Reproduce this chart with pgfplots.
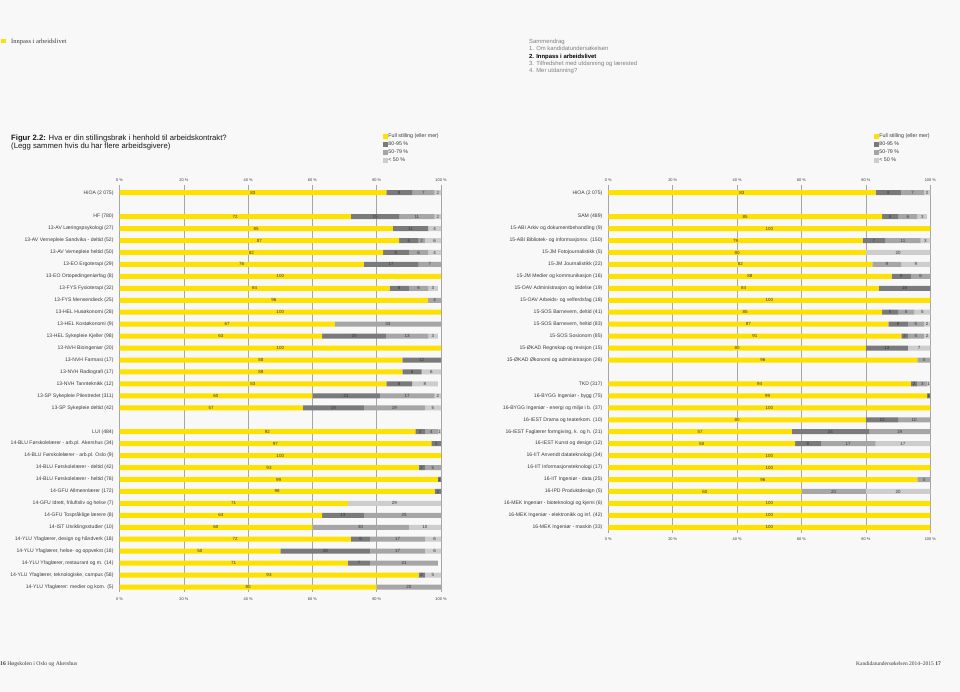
\documentclass[border=0pt]{standalone}
\usepackage{pgfplots}
\pgfplotsset{compat=1.18}
\usepackage{pgfplotstable}
\usepackage{fontspec}
\setmainfont{Liberation Sans}
\newfontfamily\seriffont{Liberation Serif}

\definecolor{bg}{HTML}{F8F8F8}
\definecolor{cyel}{HTML}{FFE100}
\definecolor{cdark}{HTML}{7A7A7A}
\definecolor{cmid}{HTML}{A6A6A6}
\definecolor{clight}{HTML}{CDCDCD}
\definecolor{ctxt}{HTML}{3A3A3A}

\pgfplotstableread{
y a b c d
0 83 8 7 2
2 72 15 11 2
3 85 11 0 4
4 87 6 2 6
5 82 8 6 4
6 76 17 7 0
7 100 0 0 0
8 84 6 6 3
9 96 0 4 0
10 100 0 0 0
11 67 0 33 0
12 63 20 13 3
13 100 0 0 0
14 88 12 0 0
15 88 6 0 6
16 83 8 0 8
17 60 21 17 2
18 57 19 19 5
20 92 3 4 1
21 97 3 0 0
22 100 0 0 0
23 93 2 5 0
24 99 1 0 0
25 98 2 0 0
26 71 0 0 29
27 63 13 25 0
28 60 0 30 10
29 72 6 17 6
30 50 28 17 6
31 71 7 21 0
32 93 2 0 5
33 80 0 20 0
}\lefttab

\pgfplotstableread{
y a b c d
0 83 8 7 2
2 85 5 6 3
3 100 0 0 0
4 79 7 11 3
5 80 0 0 20
6 82 0 9 9
7 88 6 6 0
8 84 16 0 0
9 100 0 0 0
10 85 5 5 5
11 87 6 5 2
12 91 2 5 2
13 80 13 0 7
14 96 0 4 0
16 94 2 3 1
17 99 1 0 0
18 100 0 0 0
19 80 10 10 0
20 57 24 19 0
21 58 8 17 17
22 100 0 0 0
23 100 0 0 0
24 96 0 4 0
25 60 0 20 20
26 100 0 0 0
27 100 0 0 0
28 100 0 0 0
}\righttab

\pgfplotsset{
  panel/.style={
    scale only axis, anchor=north west,
    xmin=0, xmax=100, y dir=reverse,
    axis line style={draw=none},
    tick style={draw=none},
    major tick length=0pt,
    /pgf/number format/assume math mode=true,
    xtick={0,20,40,60,80,100},
    xticklabels={0 \%,20 \%,40 \%,60 \%,80 \%,100 \%},
  },
  barsaxis/.style={panel, xbar stacked, bar width=5pt,
    xmajorgrids, grid style={color=black!35, line width=0.6pt},
    xticklabel style={font=\fontsize{3.9}{4}\selectfont, text=ctxt, anchor=center, yshift=-6.6pt, inner sep=0pt},
    yticklabel style={font=\fontsize{5.1}{5.5}\selectfont, text=ctxt, anchor=east, inner sep=0pt, xshift=-5.8pt},
    legend cell align=left,
    legend style={draw=none, fill=none, anchor=north west, inner sep=0pt,
      font=\fontsize{5.3}{5.5}\selectfont, text=ctxt, row sep=1.6pt,
      nodes={inner sep=0.8pt, text height=3.9pt, text depth=0.9pt}},
  },
  labaxis/.style={panel, ytick=\empty, clip=false,
    xticklabel pos=upper,
    xticklabel style={font=\fontsize{3.9}{4}\selectfont, text=ctxt, anchor=center, yshift=5pt, inner sep=0pt},
  },
  sq/.style={legend image code/.code={\fill[##1] (0pt,-2.2pt) rectangle (4.4pt,2.2pt);}},
  seglab/.style={only marks, mark=*, mark size=0pt, mark options={draw=none, fill=none},
    point meta=explicit,
    nodes near coords={\pgfmathfloatifflags{\pgfplotspointmeta}{0}{}{\pgfmathprintnumber{\pgfplotspointmeta}}},
    every node near coord/.style={anchor=center, font=\fontsize{4.5}{4.5}\selectfont, text=ctxt, inner sep=0pt}},
}

\begin{document}
\begin{tikzpicture}
\fill[bg] (0,0) rectangle (960pt,-692pt);

% header texts
\fill[cyel] (1pt,-39pt) rectangle (5.5pt,-43.5pt);
\node[anchor=base west, inner sep=0pt, font=\seriffont\fontsize{6.5}{7}\selectfont, text=ctxt] at (11pt,-43.4pt) {Innpass i arbeidslivet};

\begin{scope}[every node/.style={anchor=base west, inner sep=0pt, font=\fontsize{5.9}{6}\selectfont, text=black!50}]
\node at (529pt,-43.6pt) {Sammendrag};
\node at (529pt,-50.9pt) {1. Om kandidatundersøkelsen};
\node[text=black] at (529pt,-58.1pt) {\bfseries 2. Innpass i arbeidslivet};
\node at (529pt,-65.3pt) {3. Tilfredshet med utdanning og lærested};
\node at (529pt,-72.9pt) {4. Mer utdanning?};
\end{scope}

\node[anchor=base west, inner sep=0pt, font=\fontsize{7.7}{8}\selectfont, text=black!90] at (11pt,-140.2pt) {\textbf{Figur 2.2:} Hva er din stillingsbrøk i henhold til arbeidskontrakt?};
\node[anchor=base west, inner sep=0pt, font=\fontsize{7.7}{8}\selectfont, text=black!90] at (11pt,-148.7pt) {(Legg sammen hvis du har flere arbeidsgivere)};

% LEFT PANEL
\begin{axis}[barsaxis, at={(119.5pt,-185.3pt)}, width=321.5pt, height=407.1pt,
  ymin=-0.62, ymax=33.45,
  ytick={0,2,3,4,5,6,7,8,9,10,11,12,13,14,15,16,17,18,20,21,22,23,24,25,26,27,28,29,30,31,32,33},
  yticklabels={{HiOA (2 075)},{HF (780)},{13-AV Læringspsykologi (27)},{13-AV Vernepleie Sandvika - deltid (52)},{13-AV Vernepleie heltid (50)},{13-EO Ergoterapi (29)},{13-EO Ortopedingeniørfag (8)},{13-FYS Fysioterapi (32)},{13-FYS Mensendieck (25)},{13-HEL Husøkonomi (28)},{13-HEL Kostøkonomi (9)},{13-HEL Sykepleie Kjeller (98)},{13-NVH Bioingeniør (20)},{13-NVH Farmasi (17)},{13-NVH Radiografi (17)},{13-NVH Tannteknikk (12)},{13-SP Sykepleie Pilestredet (311)},{13-SP Sykepleie deltid (42)},{LUI (484)},{14-BLU Førskolelærer - arb.pl. Akershus (34)},{14-BLU Førskolelærer - arb.pl. Oslo (9)},{14-BLU Førskolelærer - deltid (42)},{14-BLU Førskolelærer - heltid (78)},{14-GFU Allmennlærer (172)},{14-GFU Idrett, friluftsliv og helse (7)},{14-GFU Tospråklige lærere (8)},{14-IST Utviklingsstudier (10)},{14-YLU Yfaglærer, design og håndverk (18)},{14-YLU Yfaglærer, helse- og oppvekst (18)},{14-YLU Yfaglærer, restaurant og m. (14)},{14-YLU Yfaglærer, teknologiske, campus (58)},{14-YLU Yfaglærer: medier og kom. (5)}},
  legend style={at={(0.8196,1.1285)}},
]
\addplot[fill=cyel, draw=none, sq] table[x=a, y=y] {\lefttab};
\addplot[fill=cdark, draw=none, sq] table[x=b, y=y] {\lefttab};
\addplot[fill=cmid, draw=none, sq] table[x=c, y=y] {\lefttab};
\addplot[fill=clight, draw=none, sq] table[x=d, y=y] {\lefttab};
\legend{Full stilling (eller mer), 80-95 \%, 50-79 \%, < 50 \%}
\end{axis}
\begin{axis}[labaxis, at={(119.5pt,-185.3pt)}, width=321.5pt, height=407.1pt,
  ymin=-0.62, ymax=33.45]
\addplot[seglab] table[x expr=\thisrow{a}/2, y=y, meta=a] {\lefttab};
\addplot[seglab] table[x expr=\thisrow{a}+\thisrow{b}/2, y=y, meta=b] {\lefttab};
\addplot[seglab] table[x expr=\thisrow{a}+\thisrow{b}+\thisrow{c}/2, y=y, meta=c] {\lefttab};
\addplot[seglab] table[x expr=\thisrow{a}+\thisrow{b}+\thisrow{c}+\thisrow{d}/2, y=y, meta=d] {\lefttab};
\end{axis}

% RIGHT PANEL
\begin{axis}[barsaxis, at={(608.3pt,-185.3pt)}, width=322pt, height=347.4pt,
  ymin=-0.62, ymax=28.45,
  ytick={0,2,3,4,5,6,7,8,9,10,11,12,13,14,16,17,18,19,20,21,22,23,24,25,26,27,28},
  yticklabels={{HiOA (2 075)},{SAM (489)},{15-ABI Arkiv og dokumentbehandling (9)},{15-ABI Bibliotek- og informasjonsv. (150)},{15-JM Fotojournalistikk (5)},{15-JM Journalistikk (22)},{15-JM Medier og kommunikasjon (16)},{15-OAV Administrasjon og ledelse (19)},{15-OAV Arbeids- og velferdsfag (18)},{15-SOS Barnevern, deltid (41)},{15-SOS Barnevern, heltid (83)},{15-SOS Sosionom (85)},{15-ØKAD Regnskap og revisjon (15)},{15-ØKAD Økonomi og administrasjon (26)},{TKD (317)},{16-BYGG Ingeniør - bygg (75)},{16-BYGG Ingeniør - energi og miljø i b. (37)},{16-IEST Drama og teaterkom. (10)},{16-IEST Faglærer formgiving, k. og h. (21)},{16-IEST Kunst og design (12)},{16-IIT Anvendt datateknologi (34)},{16-IIT Informasjonsteknologi (17)},{16-IIT Ingeniør - data (25)},{16-IPD Produktdesign (5)},{16-MEK Ingeniør - bioteknologi og kjemi (6)},{16-MEK Ingeniør - elektronikk og inf. (42)},{16-MEK Ingeniør - maskin (33)}},
  legend style={at={(0.825,1.1505)}},
]
\addplot[fill=cyel, draw=none, sq] table[x=a, y=y] {\righttab};
\addplot[fill=cdark, draw=none, sq] table[x=b, y=y] {\righttab};
\addplot[fill=cmid, draw=none, sq] table[x=c, y=y] {\righttab};
\addplot[fill=clight, draw=none, sq] table[x=d, y=y] {\righttab};
\legend{Full stilling (eller mer), 80-95 \%, 50-79 \%, < 50 \%}
\end{axis}
\begin{axis}[labaxis, at={(608.3pt,-185.3pt)}, width=322pt, height=347.4pt,
  ymin=-0.62, ymax=28.45]
\addplot[seglab] table[x expr=\thisrow{a}/2, y=y, meta=a] {\righttab};
\addplot[seglab] table[x expr=\thisrow{a}+\thisrow{b}/2, y=y, meta=b] {\righttab};
\addplot[seglab] table[x expr=\thisrow{a}+\thisrow{b}+\thisrow{c}/2, y=y, meta=c] {\righttab};
\addplot[seglab] table[x expr=\thisrow{a}+\thisrow{b}+\thisrow{c}+\thisrow{d}/2, y=y, meta=d] {\righttab};
\end{axis}

% footer
\node[anchor=base west, inner sep=0pt, font=\seriffont\fontsize{5.7}{6}\selectfont, text=ctxt] at (0pt,-665.5pt) {\textbf{16} Høgskolen i Oslo og Akershus};
\node[anchor=base east, inner sep=0pt, font=\seriffont\fontsize{5.5}{6}\selectfont, text=ctxt] at (941pt,-665.5pt) {Kandidatundersøkelsen 2014–2015 \textbf{17}};

\pgfresetboundingbox
\path[use as bounding box] (0,0) rectangle (960pt,-692pt);
\end{tikzpicture}
\end{document}
